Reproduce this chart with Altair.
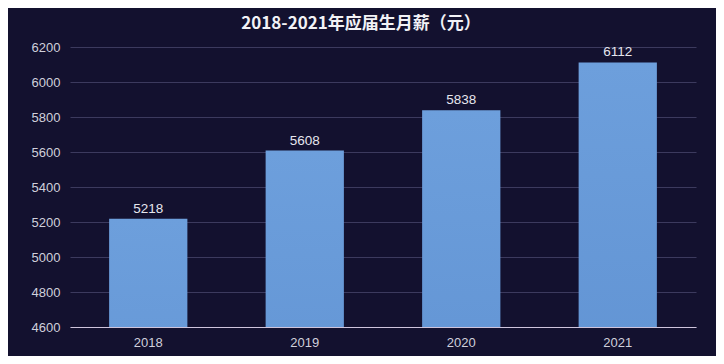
import altair as alt
import pandas as pd

years = ["2018", "2019", "2020", "2021"]
salaries = [5218, 5608, 5838, 6112]
y_ticks = [4600, 4800, 5000, 5200, 5400, 5600, 5800, 6000, 6200]
title_text = "2018-2021年应届生月薪（元）"

df = pd.DataFrame({"year": years, "salary": salaries})

cjk = "Noto Sans CJK SC"
num = "Liberation Sans"

base = alt.Chart(df).encode(
    x=alt.X("year:N", sort=years, title=None,
            scale=alt.Scale(paddingInner=0.5, paddingOuter=0.25),
            axis=alt.Axis(labelAngle=0, labelColor="#d0d0dc", labelFontSize=13,
                          labelFont=num, ticks=False, domain=True,
                          domainColor="#cfc4dc", domainWidth=1.2, labelPadding=9,
                          zindex=1)),
    y=alt.Y("salary:Q", title=None,
            scale=alt.Scale(domain=[4600, 6200], nice=False, zero=False),
            axis=alt.Axis(values=y_ticks, format="d", labelColor="#d0d0dc",
                          labelFontSize=13, labelFont=num, ticks=False, domain=False,
                          gridColor="#3c3a5e", gridWidth=1, labelPadding=10)),
)

bars = base.mark_bar(
    clip=True,
    color=alt.LinearGradient(
        gradient="linear",
        stops=[alt.GradientStop(color="#6d9fdc", offset=0),
               alt.GradientStop(color="#4679c0", offset=1)],
        x1=1, x2=1, y1=0, y2=1,
    ),
)

labels = base.mark_text(dy=-10, color="#e6e6ee", fontSize=13.5, font=num).encode(
    text=alt.Text("salary:Q", format="d")
)

chart = (bars + labels).properties(
    width=626,
    height=280,
    background="#13112f",
    padding={"left": 62, "top": 39, "right": 20, "bottom": 29},
    autosize=alt.AutoSizeParams(type="none"),
    title=alt.Title(title_text, color="#f2f2f6", fontSize=17, fontWeight="bold",
                    font=cjk, anchor="middle", dx=-22, offset=8),
).configure_view(stroke=None)

chart.save("out.html", embed_options={"renderer": "svg", "actions": False})
